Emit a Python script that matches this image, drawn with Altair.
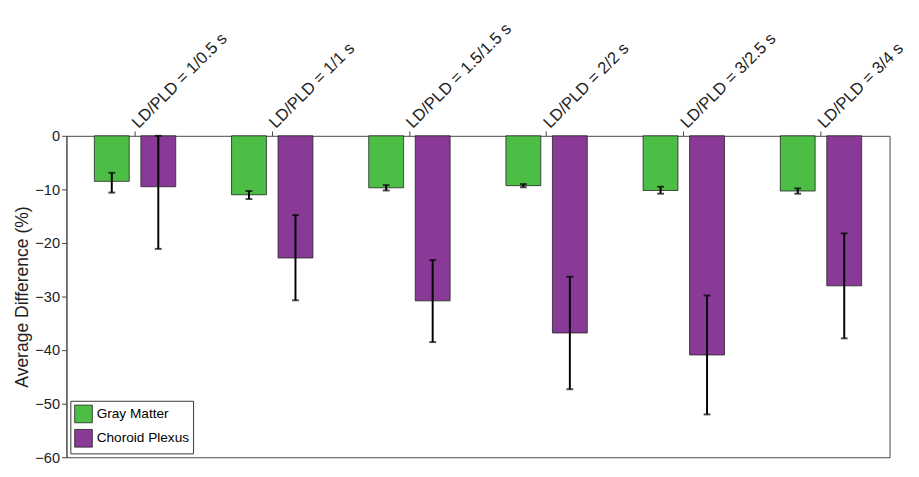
import altair as alt
import pandas as pd

groups = ["LD/PLD = 1/0.5 s", "LD/PLD = 1/1 s", "LD/PLD = 1.5/1.5 s", "LD/PLD = 2/2 s", "LD/PLD = 3/2.5 s", "LD/PLD = 3/4 s"]
gm_val = [-8.5, -11.0, -9.7, -9.3, -10.2, -10.3]
gm_lo = [-10.6, -11.8, -10.2, -9.6, -10.8, -10.8]
gm_hi = [-6.9, -10.3, -9.2, -9.0, -9.5, -9.8]
cp_val = [-9.5, -22.8, -30.8, -36.8, -40.9, -28.0]
cp_lo = [-21.1, -30.7, -38.5, -47.3, -52.0, -37.8]
cp_hi = [0.0, -14.8, -23.2, -26.3, -29.8, -18.2]
series = ["Gray Matter", "Choroid Plexus"]

rows = []
for i, g in enumerate(groups):
    rows.append(dict(g=g, s=series[0], v=gm_val[i], lo=gm_lo[i], hi=gm_hi[i]))
    rows.append(dict(g=g, s=series[1], v=cp_val[i], lo=cp_lo[i], hi=cp_hi[i]))
df = pd.DataFrame(rows)

x = alt.X("g:N", sort=groups, title=None,
          scale=alt.Scale(paddingInner=0.0, paddingOuter=0.0),
          axis=alt.Axis(orient="top", labelAngle=-45, labelAlign="left", labelBaseline="middle",
                        labelFontSize=17, labelColor="#222", domain=False, tickColor="#444",
                        bandPosition=0.5, labelFont="Liberation Sans", labelPadding=6))
xo = alt.XOffset("s:N", sort=series, scale=alt.Scale(paddingInner=0.25, paddingOuter=0.6))

bars = alt.Chart(df).mark_bar(stroke="#222", strokeWidth=0.8).encode(
    x=x, xOffset=xo,
    y=alt.Y("v:Q", title="Average Difference (%)",
            scale=alt.Scale(domain=[-60, 0], nice=False),
            axis=alt.Axis(values=list(range(-60, 1, 10)), grid=False, labelFontSize=15,
                          titleFontSize=18, titleFontWeight="normal", labelColor="#222",
                          titleColor="#222", domainColor="#444", tickColor="#444",
                          labelFont="Liberation Sans", titleFont="Liberation Sans")),
    color=alt.Color("s:N", sort=series,
                    scale=alt.Scale(domain=series, range=["#4cbd45", "#883a96"]),
                    legend=alt.Legend(title=None, orient="bottom-left", symbolType="square",
                                      symbolSize=330, symbolStrokeColor="#222", symbolStrokeWidth=0.8,
                                      labelFontSize=14, labelFont="Liberation Sans",
                                      strokeColor="#333", fillColor="white", padding=4,
                                      offset=4, rowPadding=2)),
)
rule = alt.Chart(df).mark_rule(color="black", strokeWidth=2).encode(
    x=x, xOffset=xo, y="lo:Q", y2="hi:Q")
cap1 = alt.Chart(df).mark_tick(color="black", thickness=2, size=7).encode(
    x=x, xOffset=xo, y="lo:Q")
cap2 = alt.Chart(df).mark_tick(color="black", thickness=2, size=7).encode(
    x=x, xOffset=xo, y="hi:Q")

chart = alt.layer(bars, rule, cap1, cap2).properties(width=845, height=330).configure_view(
    stroke="#444", strokeWidth=1)
chart.save("out.html", embed_options={"renderer": "svg", "actions": False})
